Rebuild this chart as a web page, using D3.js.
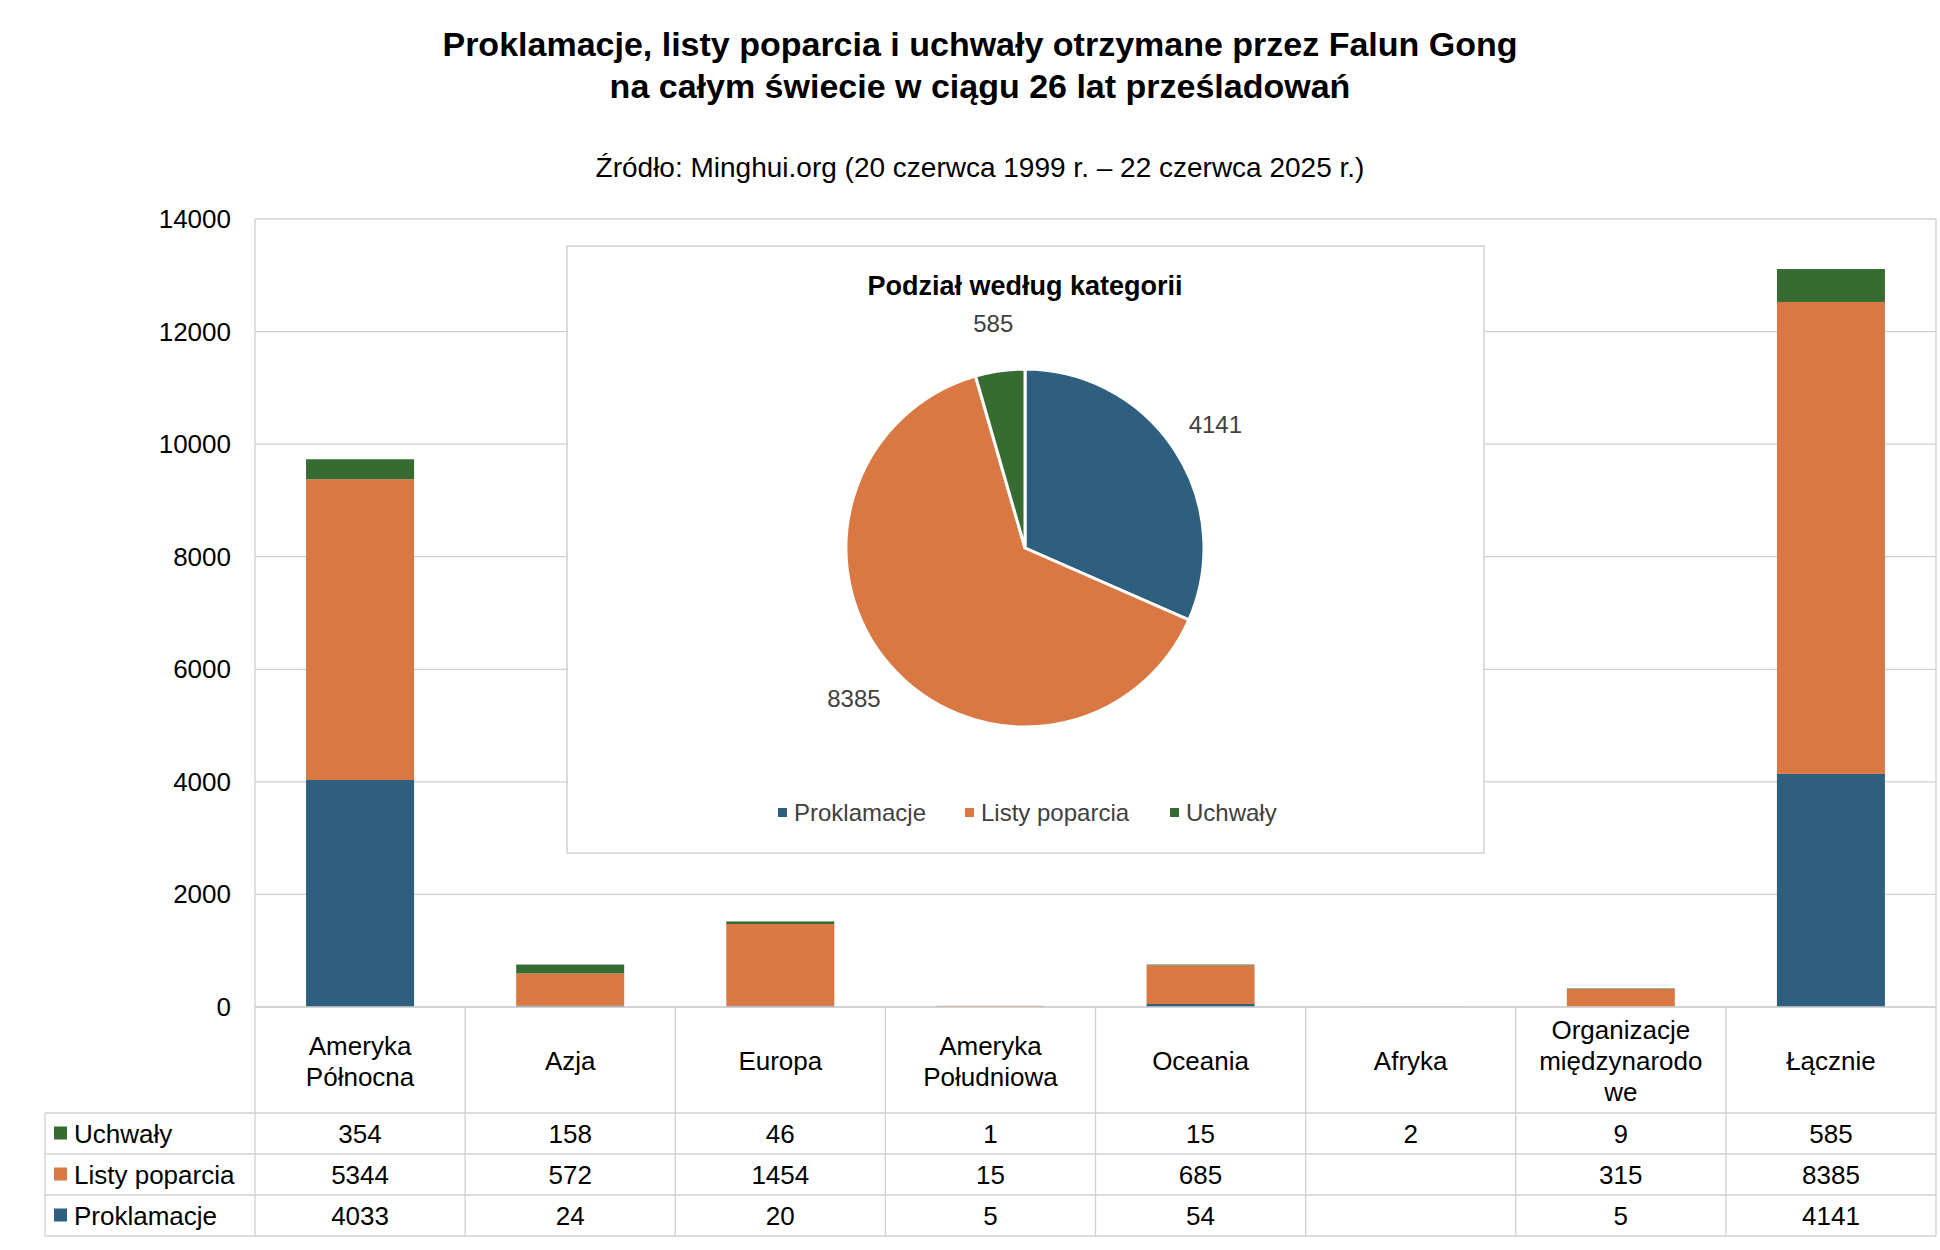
<!DOCTYPE html>
<html><head><meta charset="utf-8">
<script src="https://d3js.org/d3.v7.min.js"></script>
<style>body{margin:0;background:#fff}text{font-family:"Liberation Sans",Arial,sans-serif}</style>
</head><body><svg id="c" width="1940" height="1250"></svg>
<script>
const categories=[["Ameryka","Północna"],["Azja"],["Europa"],["Ameryka","Południowa"],["Oceania"],["Afryka"],["Organizacje","międzynarodo","we"],["Łącznie"]];
const seriesNames=["Uchwały","Listy poparcia","Proklamacje"];
const uchwaly=[354,158,46,1,15,2,9,585];
const listy=[5344,572,1454,15,685,null,315,8385];
const proklamacje=[4033,24,20,5,54,null,5,4141];
const yTicks=[0,2000,4000,6000,8000,10000,12000,14000];
const pieNames=["Proklamacje","Listy poparcia","Uchwały"];
const pieValues=[4141,8385,585];
const colors={"Proklamacje":"#2e5f7f","Listy poparcia":"#d97843","Uchwały":"#366b32"};

const svg=d3.select("#c");
const L=255,R=1936,T=219,B=1007;
const x=d3.scaleBand().domain(d3.range(8)).range([L,R]);
const y=d3.scaleLinear().domain([0,14000]).range([B,T]);

svg.append("text").attr("x",980).attr("y",56).attr("text-anchor","middle").attr("font-size",34).attr("font-weight","bold").text("Proklamacje, listy poparcia i uchwały otrzymane przez Falun Gong");
svg.append("text").attr("x",980).attr("y",98).attr("text-anchor","middle").attr("font-size",34).attr("font-weight","bold").text("na całym świecie w ciągu 26 lat prześladowań");
svg.append("text").attr("x",980).attr("y",177).attr("text-anchor","middle").attr("font-size",28).text("Źródło: Minghui.org (20 czerwca 1999 r. – 22 czerwca 2025 r.)");

// grid
svg.append("g").selectAll("line").data(yTicks).join("line").attr("x1",L).attr("x2",R).attr("y1",d=>y(d)).attr("y2",d=>y(d)).attr("stroke","#d0d0d0").attr("stroke-width",1.3);
svg.append("line").attr("x1",L).attr("x2",L).attr("y1",T).attr("y2",1236).attr("stroke","#d0d0d0").attr("stroke-width",1.3);
svg.append("line").attr("x1",R).attr("x2",R).attr("y1",T).attr("y2",1236).attr("stroke","#d0d0d0").attr("stroke-width",1.3);
svg.append("g").selectAll("text").data(yTicks).join("text").attr("x",L-24).attr("y",d=>y(d)+9).attr("text-anchor","end").attr("font-size",26).text(d=>d);

// bars
const rows=categories.map((c,i)=>({i,"Proklamacje":proklamacje[i]||0,"Listy poparcia":listy[i]||0,"Uchwały":uchwaly[i]||0}));
const stack=d3.stack().keys(["Proklamacje","Listy poparcia","Uchwały"])(rows);
const bw=108;
svg.append("g").selectAll("g").data(stack).join("g").attr("fill",d=>colors[d.key])
 .selectAll("rect").data(d=>d).join("rect")
 .attr("x",(d,i)=>x(i)+x.bandwidth()/2-bw/2).attr("width",bw)
 .attr("y",d=>y(d[1])).attr("height",d=>Math.max(0,y(d[0])-y(d[1])));

// table
const tl=45, rowY=[1007,1113,1154,1195,1236];
rowY.forEach((yy,k)=>{svg.append("line").attr("x1",k==0?L:tl).attr("x2",R).attr("y1",yy).attr("y2",yy).attr("stroke","#d0d0d0").attr("stroke-width",1.3);});
svg.append("line").attr("x1",tl).attr("x2",tl).attr("y1",1113).attr("y2",1236).attr("stroke","#d0d0d0").attr("stroke-width",1.3);
d3.range(1,8).forEach(i=>svg.append("line").attr("x1",x(i)).attr("x2",x(i)).attr("y1",B).attr("y2",1236).attr("stroke","#d0d0d0").attr("stroke-width",1.3));
categories.forEach((c,i)=>{
  const cx=x(i)+x.bandwidth()/2, n=c.length, lh=31;
  c.forEach((s,j)=>svg.append("text").attr("x",cx).attr("y",1070+(j-(n-1)/2)*lh).attr("text-anchor","middle").attr("font-size",26).text(s));
});
const data=[uchwaly,listy,proklamacje];
seriesNames.forEach((s,k)=>{
  const cy=(rowY[k+1]+rowY[k+2])/2;
  svg.append("rect").attr("x",54).attr("y",cy-7).attr("width",13).attr("height",13).attr("fill",colors[s]);
  svg.append("text").attr("x",74).attr("y",cy+9).attr("font-size",26).text(s);
  data[k].forEach((v,i)=>{ if(v!=null) svg.append("text").attr("x",x(i)+x.bandwidth()/2).attr("y",cy+9).attr("text-anchor","middle").attr("font-size",26).text(v);});
});

// pie inset
svg.append("rect").attr("x",567).attr("y",246).attr("width",917).attr("height",607).attr("fill","#fff").attr("stroke","#d0d0d0").attr("stroke-width",1.5);
svg.append("text").attr("x",1025).attr("y",295).attr("text-anchor","middle").attr("font-size",27).attr("font-weight","bold").text("Podział według kategorii");
const pcx=1025,pcy=548,pr=179;
const arcs=d3.pie().sort(null)(pieValues);
const arc=d3.arc().innerRadius(0).outerRadius(pr);
const pg=svg.append("g").attr("transform",`translate(${pcx},${pcy})`);
pg.selectAll("path").data(arcs).join("path").attr("d",arc).attr("fill",(d,i)=>colors[pieNames[i]]).attr("stroke","#fff").attr("stroke-width",3);
const lblArc=d3.arc().innerRadius(pr*1.27).outerRadius(pr*1.27);
pg.selectAll("text").data(arcs).join("text").attr("transform",d=>`translate(${lblArc.centroid(d)})`).attr("dy",9).attr("text-anchor","middle").attr("font-size",24).attr("fill","#404040").text(d=>d.data);
let lx=[778,965,1170];
pieNames.forEach((n,i)=>{
  svg.append("rect").attr("x",lx[i]).attr("y",808).attr("width",9).attr("height",9).attr("fill",colors[n]);
  svg.append("text").attr("x",lx[i]+16).attr("y",821).attr("font-size",24).attr("fill","#404040").text(n);
});
</script></body></html>
